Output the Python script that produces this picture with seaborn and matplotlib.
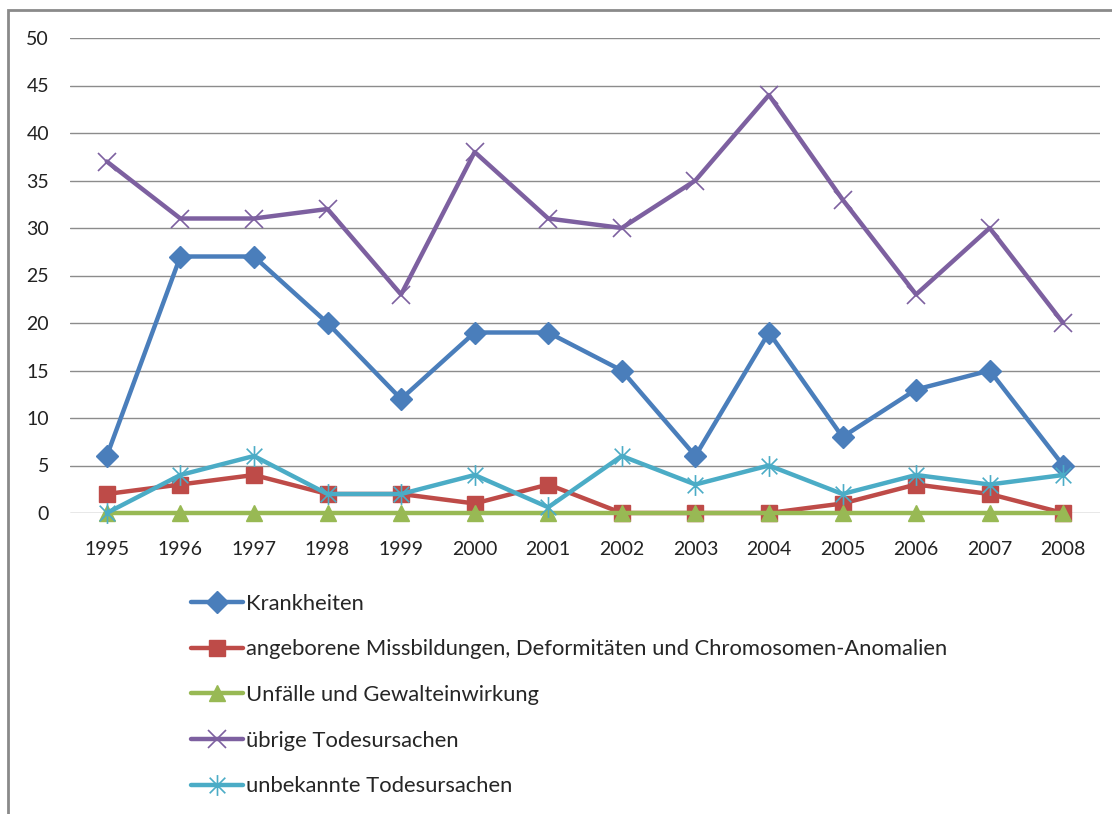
import numpy as np
import pandas as pd
import seaborn as sns
import matplotlib.pyplot as plt
from matplotlib.path import Path
from matplotlib.patches import Rectangle

# data
years = [1995, 1996, 1997, 1998, 1999, 2000, 2001, 2002, 2003, 2004, 2005, 2006, 2007, 2008]
krankheiten = [6, 27, 27, 20, 12, 19, 19, 15, 6, 19, 8, 13, 15, 5]
missbildungen = [2, 3, 4, 2, 2, 1, 3, 0, 0, 0, 1, 3, 2, 0]
unfaelle = [0, 0, 0, 0, 0, 0, 0, 0, 0, 0, 0, 0, 0, 0]
uebrige = [37, 31, 31, 32, 23, 38, 31, 30, 35, 44, 33, 23, 30, 20]
unbekannt = [0, 4, 6, 2, 2, 4, 0.6, 6, 3, 5, 2, 4, 3, 4]

labels = ['Krankheiten',
          'angeborene Missbildungen, Deformitäten und Chromosomen-Anomalien',
          'Unfälle und Gewalteinwirkung',
          'übrige Todesursachen',
          'unbekannte Todesursachen']

sns.set_theme(style='white')
plt.rcParams['font.family'] = ['Lato', 'DejaVu Sans']

# excel style asterisk: vertical bar plus an x
star = Path([(0, -1), (0, 1), (-0.75, -0.75), (0.75, 0.75), (-0.75, 0.75), (0.75, -0.75)],
            [Path.MOVETO, Path.LINETO, Path.MOVETO, Path.LINETO, Path.MOVETO, Path.LINETO])

series = [
    (krankheiten, '#4A7EBB', 'D', 11, 1),
    (missbildungen, '#BE4B48', 's', 12, 1),
    (unfaelle, '#98B954', '^', 12, 1),
    (uebrige, '#7D60A0', 'x', 13, 1.2),
    (unbekannt, '#4BACC6', star, 15, 1.2),
]

fig = plt.figure(figsize=(11.12, 8.14), dpi=100)
ax = fig.add_axes([70 / 1112, 1 - 513 / 814, 1030 / 1112, 475 / 814])

x = np.arange(len(years))
for (vals, color, marker, ms, mew), lab in zip(series, labels):
    df = pd.DataFrame({'x': x, 'y': vals})
    sns.lineplot(data=df, x='x', y='y', ax=ax, color=color, linewidth=3.2,
                 marker=marker, markersize=ms, markeredgecolor=color,
                 markeredgewidth=mew, label=lab, clip_on=False)

ax.set_xlim(-0.5, len(years) - 0.5)
ax.set_ylim(0, 50)
ax.set_yticks(np.arange(0, 51, 5))
ax.set_xticks(x)
ax.set_xticklabels([str(y) for y in years])
ax.set_xlabel('')
ax.set_ylabel('')
ax.yaxis.grid(True, color='#8c8c8c', linewidth=1)
ax.set_axisbelow(True)
for s in ax.spines.values():
    s.set_visible(False)
ax.tick_params(axis='both', length=0, labelsize=14, colors='#222222')
ax.tick_params(axis='y', pad=15)
ax.tick_params(axis='x', pad=20)

handles, labs = ax.get_legend_handles_labels()
ax.legend_.remove()
fig.legend(handles, labs, loc='upper left', bbox_to_anchor=(182 / 1112, 1 - 585 / 814),
           frameon=False, fontsize=15.8, handlelength=2.4, handletextpad=0.1,
           labelspacing=1.17, borderaxespad=0)

# chart border
fig.patches.append(Rectangle((8 / 1112, -0.1), 1.2, 0.1 + (814 - 10) / 814,
                             transform=fig.transFigure, fill=False,
                             edgecolor='#8a8a8a', linewidth=2))

fig.savefig('out.png', dpi=100)
